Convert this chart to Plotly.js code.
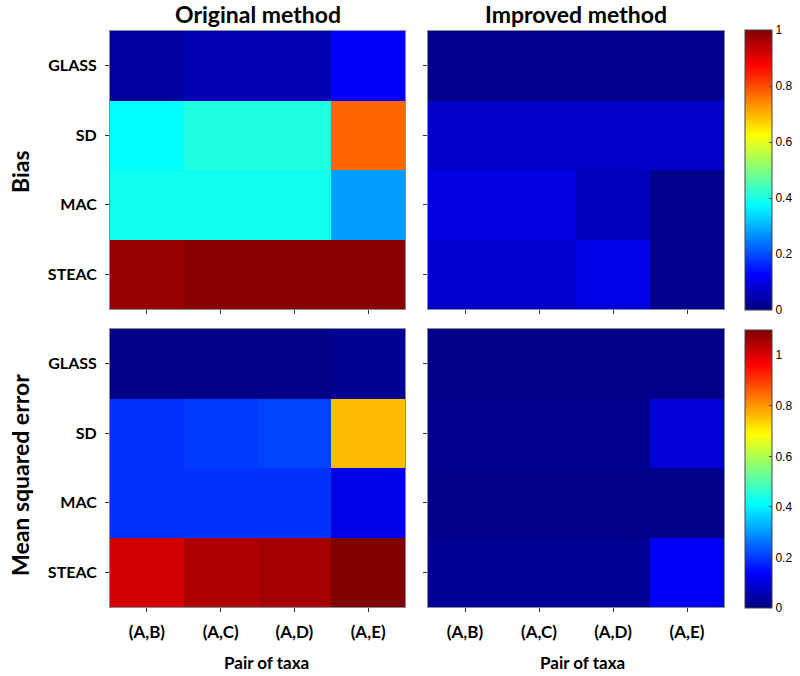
<!DOCTYPE html>
<html>
<head>
<meta charset="utf-8">
<script src="https://cdn.plot.ly/plotly-3.0.1.min.js"></script>
<style>html,body{margin:0;padding:0;background:#fff;}#chart{width:800px;height:676px;}</style>
</head>
<body>
<div id="chart"></div>
<script>
// Data
const pairs = ['(A,B)', '(A,C)', '(A,D)', '(A,E)'];
const methods = ['GLASS', 'SD', 'MAC', 'STEAC'];

// Bias, original method (rows: GLASS, SD, MAC, STEAC)
const biasOriginal = [
  [0.03, 0.05, 0.05, 0.12],
  [0.375, 0.405, 0.405, 0.775],
  [0.39, 0.39, 0.39, 0.28],
  [0.975, 0.99, 0.99, 0.99]
];
// Bias, improved method
const biasImproved = [
  [0.01, 0.01, 0.01, 0.01],
  [0.07, 0.07, 0.07, 0.07],
  [0.095, 0.095, 0.06, 0.01],
  [0.075, 0.075, 0.1, 0.01]
];
// Mean squared error, original method
const mseOriginal = [
  [0.01, 0.01, 0.01, 0.02],
  [0.19, 0.2, 0.21, 0.76],
  [0.19, 0.19, 0.19, 0.11],
  [1.01, 1.05, 1.06, 1.1]
];
// Mean squared error, improved method
const mseImproved = [
  [0.01, 0.01, 0.01, 0.01],
  [0.015, 0.015, 0.015, 0.095],
  [0.01, 0.01, 0.01, 0.01],
  [0.025, 0.025, 0.025, 0.13]
];
const biasTicks = [0, 0.2, 0.4, 0.6, 0.8, 1];
const mseTicks = [0, 0.2, 0.4, 0.6, 0.8, 1];

const jet = [
  [0, 'rgb(0,0,128)'], [0.125, 'rgb(0,0,255)'], [0.375, 'rgb(0,255,255)'],
  [0.625, 'rgb(255,255,0)'], [0.875, 'rgb(255,0,0)'], [1, 'rgb(128,0,0)']
];

const FONT = 'Lato, "Open Sans", sans-serif';

function hm(z, xa, ya, ca) {
  return {type: 'heatmap', x: pairs, y: methods, z: z, xaxis: xa, yaxis: ya,
          coloraxis: ca, hoverinfo: 'x+y+z'};
}

const data = [
  hm(biasOriginal, 'x', 'y', 'coloraxis'),
  hm(biasImproved, 'x2', 'y2', 'coloraxis'),
  hm(mseOriginal, 'x3', 'y3', 'coloraxis2'),
  hm(mseImproved, 'x4', 'y4', 'coloraxis2')
];

const W = 800, H = 676;
const colL = [110 / W, 405 / W], colR = [428 / W, 724 / W];
const rowT = [1 - 309 / H, 1 - 31 / H], rowB = [1 - 607 / H, 1 - 329 / H];

function xax(domain, anchor, labels) {
  return {domain: domain, anchor: anchor, type: 'category', showticklabels: labels,
    ticks: 'outside', ticklen: 4, tickcolor: '#333', showline: true, mirror: true,
    linecolor: '#8a8a9a', linewidth: 1, showgrid: false, zeroline: false, fixedrange: true,
    ticklabelstandoff: 6,
    tickfont: {family: FONT, size: 17, color: '#000', weight: 'bold'}};
}
function yax(domain, anchor, labels) {
  return {domain: domain, anchor: anchor, type: 'category', autorange: 'reversed',
    showticklabels: labels, ticks: 'outside', ticklen: 4, tickcolor: '#333',
    showline: true, mirror: true, linecolor: '#8a8a9a', linewidth: 1, showgrid: false,
    zeroline: false, fixedrange: true, ticklabelstandoff: 5,
    tickfont: {family: FONT, size: 16, color: '#000', weight: 'bold'}};
}

function cbar(ytopPx, ybotPx, ticks) {
  return {x: 745 / W, xanchor: 'left', xpad: 0, ypad: 0,
    y: 1 - ((ytopPx + ybotPx) / 2) / H, yanchor: 'middle',
    len: (ybotPx - ytopPx), lenmode: 'pixels', thickness: 27, thicknessmode: 'pixels',
    outlinecolor: '#444', outlinewidth: 1, ticks: 'inside', ticklen: 3, tickcolor: '#444',
    tickvals: ticks, tickfont: {family: 'Arial, "Liberation Sans", sans-serif', size: 12, color: '#000'}};
}

function ann(text, xPx, yPx, size, angle) {
  return {text: '<b>' + text + '</b>', x: xPx / W, y: 1 - yPx / H, xref: 'paper', yref: 'paper',
    xanchor: 'center', yanchor: 'middle', textangle: angle || 0, showarrow: false,
    font: {family: FONT, size: size, color: '#000'}};
}

const layout = {
  width: W, height: H, margin: {l: 0, r: 0, t: 0, b: 0},
  paper_bgcolor: '#fff', plot_bgcolor: '#fff', showlegend: false,
  font: {family: FONT},
  xaxis: xax(colL, 'y', false), yaxis: yax(rowT, 'x', true),
  xaxis2: xax(colR, 'y2', false), yaxis2: yax(rowT, 'x2', false),
  xaxis3: xax(colL, 'y3', true), yaxis3: yax(rowB, 'x3', true),
  xaxis4: xax(colR, 'y4', true), yaxis4: yax(rowB, 'x4', false),
  coloraxis: {colorscale: jet, cmin: 0, cmax: 1, colorbar: cbar(30, 310, biasTicks)},
  coloraxis2: {colorscale: jet, cmin: 0, cmax: 1.1, colorbar: cbar(330, 608, mseTicks)},
  annotations: [
    ann('Original method', 258, 14, 23),
    ann('Improved method', 576, 14, 23),
    ann('Bias', 20, 172, 23, -90),
    ann('Mean squared error', 20, 475, 23, -90),
    ann('Pair of taxa', 266, 662, 17),
    ann('Pair of taxa', 582, 662, 17)
  ]
};

Plotly.newPlot('chart', data, layout, {displayModeBar: false, staticPlot: true});
</script>
</body>
</html>
